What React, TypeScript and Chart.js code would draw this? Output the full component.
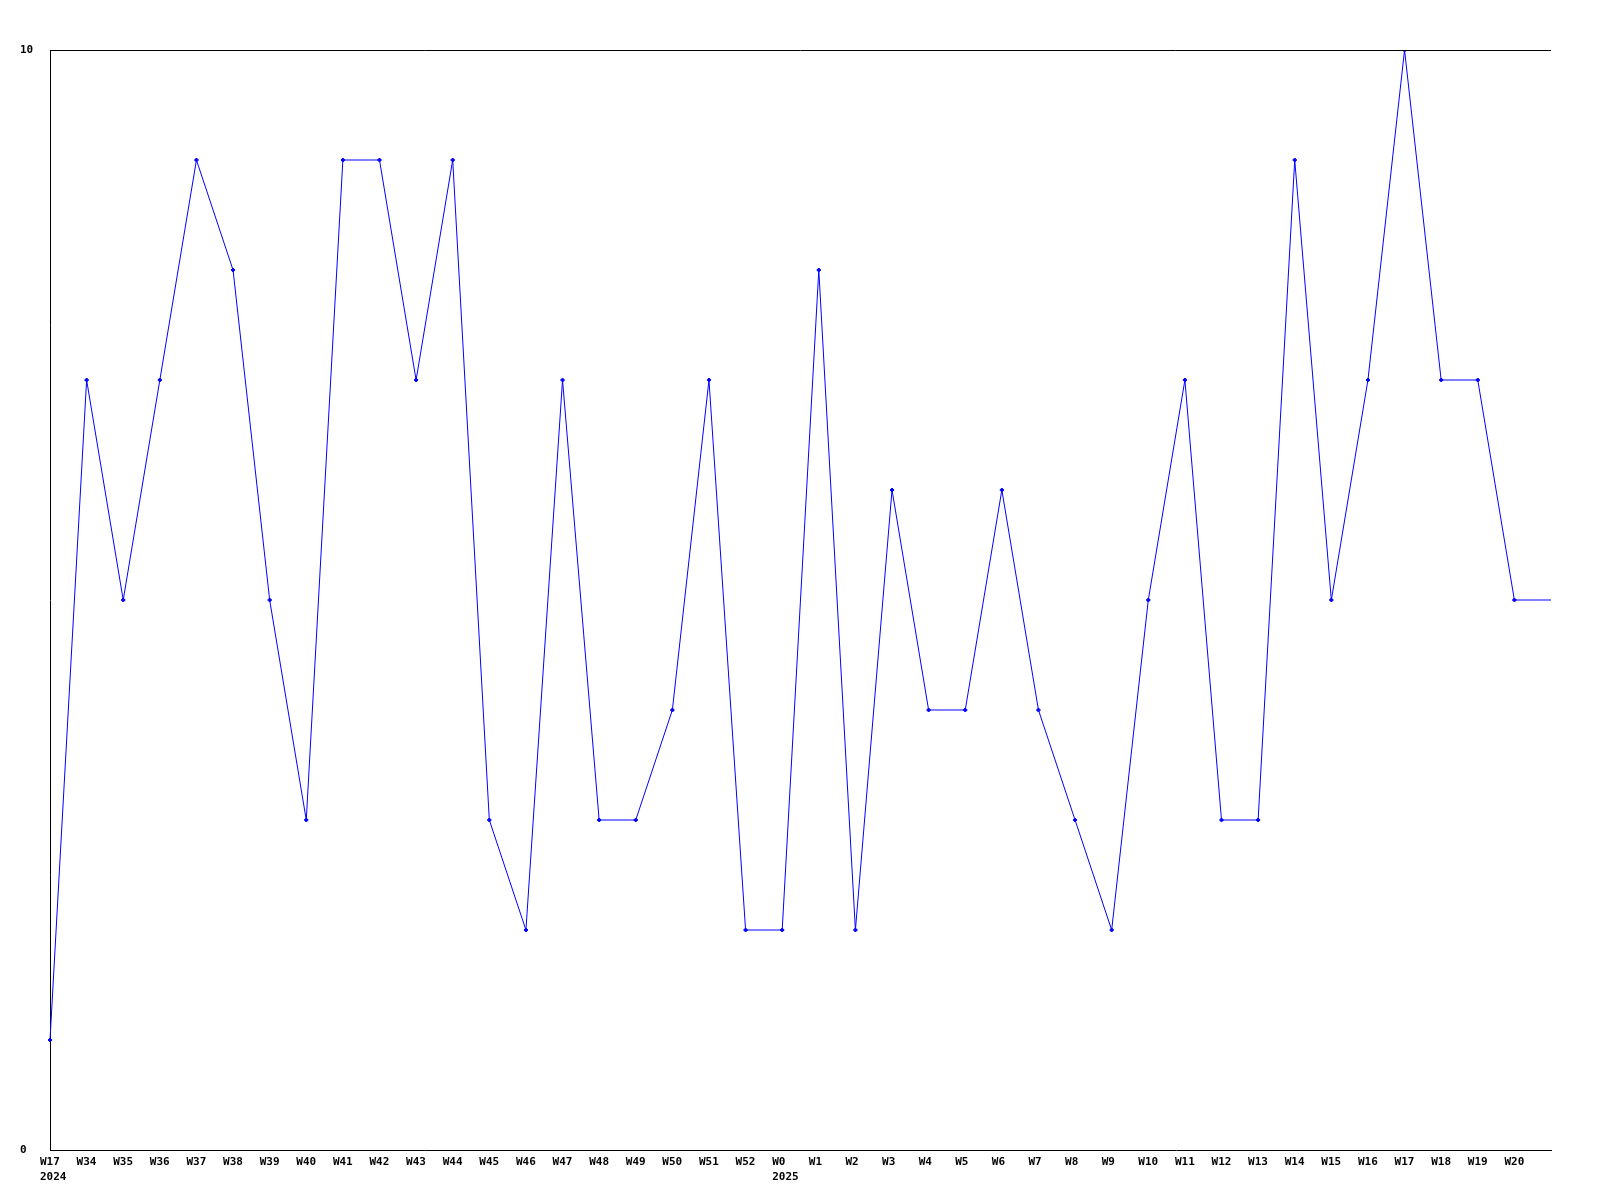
import React, { useEffect, useRef } from "react";
import { Chart, registerables } from "chart.js";

Chart.register(...registerables);

const weekLabels: string[] = [
  "W17", "W34", "W35", "W36", "W37", "W38", "W39", "W40", "W41", "W42", "W43", "W44",
  "W45", "W46", "W47", "W48", "W49", "W50", "W51", "W52", "W0", "W1", "W2", "W3",
  "W4", "W5", "W6", "W7", "W8", "W9", "W10", "W11", "W12", "W13", "W14", "W15",
  "W16", "W17", "W18", "W19", "W20", "",
];

const yearLabels: string[] = [
  "2024", "", "", "", "", "", "", "", "", "", "", "",
  "", "", "", "", "", "", "", "", "2025", "", "", "",
  "", "", "", "", "", "", "", "", "", "", "", "",
  "", "", "", "", "", "",
];

const counts: number[] = [
  1, 7, 5, 7, 9, 8, 5, 3, 9, 9, 7, 9,
  3, 2, 7, 3, 3, 4, 7, 2, 2, 8, 2, 6,
  4, 4, 6, 4, 3, 2, 5, 7, 3, 3, 9, 5,
  7, 10, 7, 7, 5, 5,
];

const yTickLabels: number[] = [0, 10];

const FONT = "bold 11px 'DejaVu Sans Mono', 'Liberation Mono', monospace";

const axisTextPlugin = {
  id: "axisText",
  afterDraw(chart: any) {
    const { ctx, chartArea, scales } = chart;
    const x = scales.x;
    const y = scales.y;
    ctx.save();
    // top border line
    ctx.strokeStyle = "#000";
    ctx.lineWidth = 1;
    ctx.beginPath();
    ctx.moveTo(chartArea.left, chartArea.top + 0.5);
    ctx.lineTo(chartArea.right, chartArea.top + 0.5);
    ctx.stroke();

    ctx.fillStyle = "#000";
    ctx.font = FONT;
    ctx.textBaseline = "middle";
    ctx.textAlign = "left";
    yTickLabels.forEach((v) => {
      const py = y.getPixelForValue(v);
      ctx.fillText(String(v), 20, py);
    });
    weekLabels.forEach((lab, i) => {
      const px = x.getPixelForValue(i);
      if (lab) ctx.fillText(lab, px - 10, chartArea.bottom + 12);
      const yr = yearLabels[i];
      if (yr) ctx.fillText(yr, px - 10, chartArea.bottom + 27);
    });
    ctx.restore();
  },
};

export default function App() {
  const ref = useRef<HTMLCanvasElement | null>(null);
  useEffect(() => {
    if (!ref.current) return;
    const chart = new Chart(ref.current, {
      type: "line",
      data: {
        labels: weekLabels,
        datasets: [
          {
            data: counts,
            borderColor: "#0000ff",
            backgroundColor: "#0000ff",
            borderWidth: 1,
            pointStyle: "rectRot",
            pointRadius: counts.map((_, i) => (i === counts.length - 1 ? 0 : 2)),
            pointBorderWidth: 1,
            tension: 0,
            fill: false,
          },
        ],
      },
      options: {
        responsive: false,
        animation: false,
        maintainAspectRatio: false,
        layout: { padding: { left: 50, top: 50, right: 49, bottom: 50 } },
        plugins: {
          legend: { display: false },
          tooltip: { enabled: false },
          title: { display: false },
        },
        scales: {
          x: {
            type: "category",
            offset: false,
            grid: { display: false },
            ticks: { display: false },
            border: { display: true, color: "#000", width: 1 },
            afterFit: (s: any) => {
              s.height = 0;
            },
          },
          y: {
            min: 0,
            max: 10,
            grid: { display: false },
            ticks: { display: false },
            border: { display: true, color: "#000", width: 1 },
            afterFit: (s: any) => {
              s.width = 0;
            },
          },
        },
      },
      plugins: [axisTextPlugin],
    });
    return () => chart.destroy();
  }, []);
  return (
    <div style={{ position: "absolute", left: 0, top: 0, width: 1600, height: 1200, background: "#fff" }}>
      <canvas ref={ref} width={1600} height={1200} style={{ width: 1600, height: 1200 }} />
    </div>
  );
}
